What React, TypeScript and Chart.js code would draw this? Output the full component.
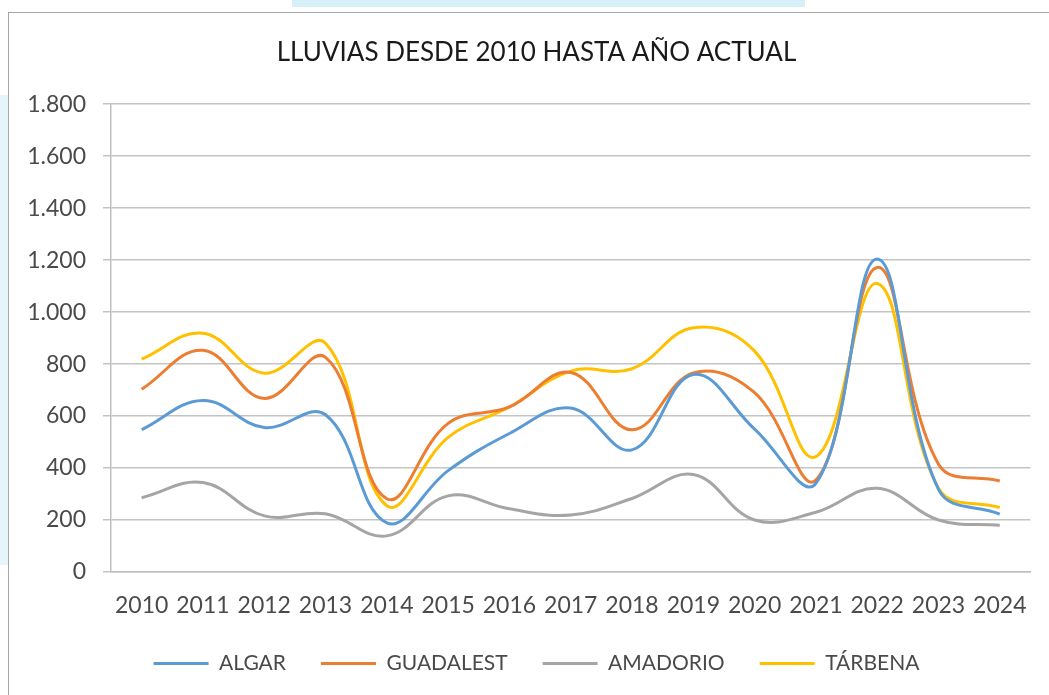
import React, { useEffect, useRef } from "react";
import { Chart, registerables } from "chart.js";

Chart.register(...registerables);

const TITLE = "LLUVIAS DESDE 2010 HASTA AÑO ACTUAL";
const YEARS = ["2010", "2011", "2012", "2013", "2014", "2015", "2016", "2017", "2018", "2019", "2020", "2021", "2022", "2023", "2024"];
const ALGAR = [548, 660, 556, 605, 189, 390, 533, 631, 470, 760, 550, 341, 1204, 318, 223];
const GUADALEST = [703, 853, 668, 826, 282, 572, 635, 768, 547, 766, 690, 354, 1172, 415, 350];
const AMADORIO = [286, 344, 216, 224, 139, 293, 243, 219, 283, 375, 200, 230, 322, 200, 180];
const TARBENA = [819, 919, 765, 880, 255, 518, 635, 773, 782, 940, 850, 444, 1110, 322, 248];
const SERIES_NAMES = ["ALGAR", "GUADALEST", "AMADORIO", "TÁRBENA"];
const SERIES_COLORS = ["#5B9BD5", "#ED7D31", "#A5A5A5", "#FFC000"];
const Y_MIN = 0;
const Y_MAX = 1800;
const Y_STEP = 200;

const FONT = "Lato, 'Open Sans', sans-serif";

function fmt(v: number): string {
  return String(Math.round(v)).replace(/\B(?=(\d{3})+(?!\d))/g, ".");
}

export default function App() {
  const ref = useRef<HTMLCanvasElement | null>(null);

  useEffect(() => {
    if (!ref.current) return;
    const values = [ALGAR, GUADALEST, AMADORIO, TARBENA];
    const chart = new Chart(ref.current, {
      type: "line",
      data: {
        labels: YEARS,
        datasets: values.map((d, i) => ({
          label: SERIES_NAMES[i],
          data: d,
          yAxisID: "y",
          borderColor: SERIES_COLORS[i],
          backgroundColor: SERIES_COLORS[i],
          borderWidth: 3,
          pointRadius: 0,
          tension: 0.4,
          fill: false,
        })),
      },
      options: {
        responsive: false,
        animation: false,
        layout: { padding: { left: 24, right: 0, top: 0, bottom: 11 } },
        plugins: {
          tooltip: { enabled: false },
          title: {
            display: true,
            text: TITLE,
            color: "#1a1a1a",
            font: { family: FONT, size: 26, weight: "normal", lineHeight: 1.2 },
            padding: { top: 37, bottom: 36 },
          },
          legend: {
            display: true,
            position: "bottom",
            labels: {
              color: "#4a4a4a",
              font: { family: FONT, size: 21, lineHeight: 1.2 },
              boxWidth: 55,
              boxHeight: 3,
              padding: 35,
              generateLabels: (c: any) =>
                (Chart.defaults.plugins.legend.labels as any)
                  .generateLabels(c)
                  .map((l: any) => ({ ...l, lineWidth: 0, fillStyle: l.strokeStyle })),
            },
          },
        },
        scales: {
          x: {
            offset: true,
            afterFit: (s: any) => {
              s.height = 46;
            },
            grid: { display: false, drawTicks: false },
            border: { display: true, color: "#bfbfbf", width: 1.5 },
            ticks: {
              color: "#4a4a4a",
              font: { family: FONT, size: 23, lineHeight: 1.0 },
              padding: 22,
              maxRotation: 0,
              autoSkip: false,
            },
          },
          y: {
            position: "left",
            min: Y_MIN,
            max: Y_MAX,
            afterFit: (s: any) => {
              s.width = 87;
            },
            grid: { color: "#c4c4c4", lineWidth: 1.5, tickLength: 8, drawTicks: true },
            border: { display: true, color: "#bfbfbf", width: 1.5 },
            ticks: {
              stepSize: Y_STEP,
              color: "#4a4a4a",
              font: { family: FONT, size: 23 },
              padding: 17,
              callback: (v: any) => fmt(Number(v)),
            },
          },
          y2: {
            type: "linear",
            position: "right",
            min: Y_MIN,
            max: Y_MAX,
            afterFit: (s: any) => {
              s.width = 16;
            },
            grid: { display: false, drawTicks: false },
            border: { display: false },
            ticks: { display: false },
          },
        },
      },
    });
    return () => chart.destroy();
  }, []);

  return (
    <div
      style={{
        position: "fixed",
        left: 0,
        top: 0,
        width: 1049,
        height: 695,
        overflow: "hidden",
        background: "#ffffff",
      }}
    >
      <div style={{ position: "absolute", left: 292, top: 0, width: 513, height: 7, background: "#d6eff9" }} />
      <div style={{ position: "absolute", left: 0, top: 95, width: 8, height: 470, background: "#e6f4fb" }} />
      <div
        style={{
          position: "absolute",
          left: 8,
          top: 12,
          width: 1100,
          height: 720,
          border: "1px solid #a6a6a6",
          boxSizing: "border-box",
        }}
      />
      <canvas
        ref={ref}
        width={1049}
        height={695}
        style={{ position: "absolute", left: 0, top: 0, width: 1049, height: 695 }}
      />
    </div>
  );
}
